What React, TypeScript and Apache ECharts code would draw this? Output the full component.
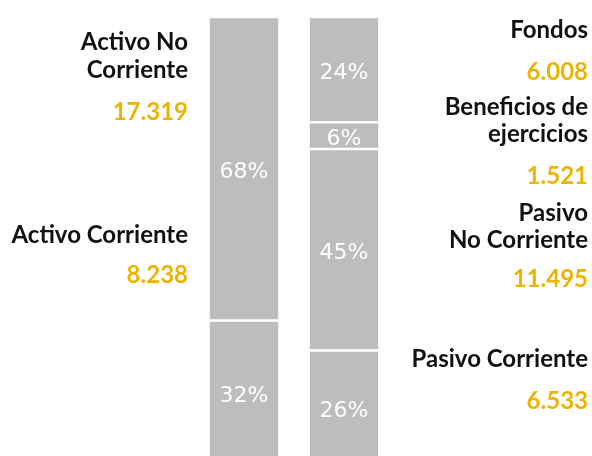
import React, { useEffect, useRef } from "react";
import * as echarts from "echarts";

// Data (bottom to top)
const categories = ["Activo", "Pasivo"];
const activoNames = ["Activo Corriente", "Activo No\nCorriente"];
const activoValues = [8238, 17319];
const pasivoNames = ["Pasivo Corriente", "Pasivo\nNo Corriente", "Beneficios de\nejercicios", "Fondos"];
const pasivoValues = [6533, 11495, 1521, 6008];

const FONT = "Lato";
const PCT_FONT = "DejaVu Sans";
const GREY = "#bcbdbc";
const YELLOW = "#ecb400";
const DARK = "#111111";

const fmt = (v: number) => String(v).replace(/\B(?=(\d{3})+(?!\d))/g, ".");
const sum = (a: number[]) => a.reduce((s, v) => s + v, 0);

export default function App() {
  const ref = useRef<HTMLDivElement>(null);
  useEffect(() => {
    document.body.style.margin = "0";
    const chart = echarts.init(ref.current!, undefined, { renderer: "svg" });
    const totalA = sum(activoValues);
    const totalP = sum(pasivoValues);
    const maxV = Math.max(totalA, totalP);

    const mkSeries = (names: string[], values: number[], idx: number, total: number) =>
      names.map((n, i) => ({
        name: n,
        type: "bar",
        stack: "all",
        barWidth: 71,
        data: categories.map((_, c) => (c === idx ? values[i] : "-")),
        itemStyle: { color: GREY, borderColor: "#ffffff", borderWidth: 1.25 },
        label: {
          show: true,
          position: "inside",
          color: "#ffffff",
          fontFamily: PCT_FONT,
          fontSize: 22,
          offset: [0, 2],
          formatter: (p: any) => Math.round((p.value / total) * 100) + "%",
        },
      }));

    // single or multi-line label; baseline = baseline of the first line
    const side = (text: string, x: number, baseline: number, color: string, lh = 27.4) => ({
      type: "text",
      x,
      y: baseline - 8.4 - lh / 2,
      style: {
        text,
        fill: color,
        font: `bold 24px ${FONT}`,
        lineHeight: lh,
        textAlign: "right",
        textVerticalAlign: "top",
      },
    });

    const L = 188;
    const R = 588;
    chart.setOption({
      animation: false,
      grid: { left: 194, width: 200, top: 17, height: 448, outerBoundsMode: "none" },
      xAxis: { type: "category", data: categories, show: false },
      yAxis: { type: "value", min: 0, max: maxV, show: false },
      series: [
        ...mkSeries(activoNames, activoValues, 0, totalA),
        ...mkSeries(pasivoNames, pasivoValues, 1, totalP),
      ],
      graphic: [
        side(activoNames[1], L, 49.3),
        side(fmt(activoValues[1]), L, 119, YELLOW),
        side(activoNames[0], L, 241.5, DARK),
        side(fmt(activoValues[0]), L, 281.7, YELLOW),
        side(pasivoNames[3], R, 36.7, DARK),
        side(fmt(pasivoValues[3]), R, 79, YELLOW),
        side(pasivoNames[2], R, 113.5, DARK),
        side(fmt(pasivoValues[2]), R, 182.7, YELLOW),
        side(pasivoNames[1], R, 220, DARK),
        side(fmt(pasivoValues[1]), R, 286, YELLOW),
        side(pasivoNames[0], R, 365.7, DARK),
        side(fmt(pasivoValues[0]), R, 408.3, YELLOW),
      ].map((g: any) => (g.style.fill ? g : { ...g, style: { ...g.style, fill: DARK } })),
    });
    return () => chart.dispose();
  }, []);
  return <div ref={ref} style={{ position: "fixed", left: 0, top: 0, width: 592, height: 456 }} />;
}
